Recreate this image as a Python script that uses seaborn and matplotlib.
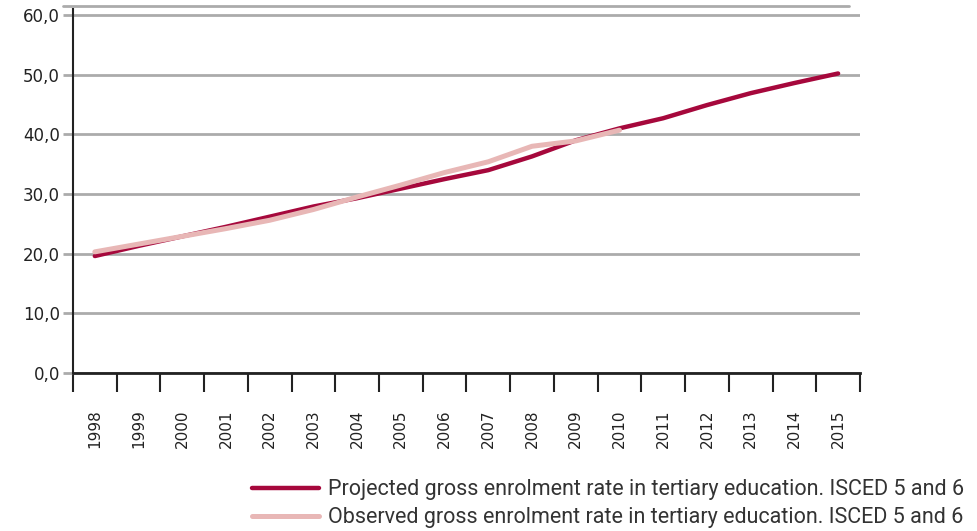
import matplotlib
matplotlib.use("Agg")
import matplotlib.pyplot as plt
import seaborn as sns
import pandas as pd
from matplotlib.ticker import FixedLocator, FuncFormatter

years = [str(y) for y in range(1998, 2016)]
projected = [19.6, 21.3, 22.9, 24.5, 26.2, 27.9, 29.3, 30.9, 32.5, 34.0,
             36.3, 39.0, 41.0, 42.7, 44.9, 46.9, 48.6, 50.2]
observed_years = [str(y) for y in range(1998, 2011)]
observed = [20.3, 21.6, 22.9, 24.2, 25.6, 27.4, 29.5, 31.5, 33.6, 35.4,
            38.0, 38.9, 40.7]
yticks = [0, 10, 20, 30, 40, 50, 60]
label_proj = "Projected gross enrolment rate in tertiary education. ISCED 5 and 6"
label_obs = "Observed gross enrolment rate in tertiary education. ISCED 5 and 6"

sns.set_theme(style="white")
plt.rcParams['font.family'] = ['DejaVu Sans']

df_p = pd.DataFrame({"year": years, "value": projected})
df_o = pd.DataFrame({"year": observed_years, "value": observed})
df_p["x"] = range(len(df_p))
df_o["x"] = range(len(df_o))

fig = plt.figure(figsize=(9.78, 5.31), dpi=100)
ax = fig.add_axes([0.0746, 0.2976, 0.8047, 0.6848])

sns.lineplot(data=df_p, x="x", y="value", ax=ax, color="#A6083C", linewidth=3.2,
             label=label_proj, zorder=3)
sns.lineplot(data=df_o, x="x", y="value", ax=ax, color="#E8B7B6", linewidth=3.6,
             label=label_obs, zorder=4)

ax.set_xlim(-0.5, len(years) - 0.5)
ax.set_ylim(0, 60.95)
ax.set_xlabel("")
ax.set_ylabel("")

ax.yaxis.set_major_locator(FixedLocator(yticks))
ax.yaxis.set_major_formatter(FuncFormatter(lambda v, p: f"{v:.1f}".replace(".", ",")))
ax.grid(axis="y", color="#ABABAB", linewidth=2.0)
ax.grid(axis="x", visible=False)
ax.tick_params(axis="y", length=7.5, width=2.0, color="#ABABAB", pad=2,
               labelsize=12, labelcolor="#222222", left=True)

ax.set_xticks(range(len(years)))
ax.set_xticklabels(years, rotation=90, fontsize=11, color="#222222", va="bottom")
ax.set_xticks([i - 0.5 for i in range(len(years) + 1)], minor=True)
ax.tick_params(axis="x", which="major", length=0, pad=54)
ax.tick_params(axis="x", which="minor", length=14, width=1.5, color="#222222", bottom=True)

for s in ["top", "right"]:
    ax.spines[s].set_visible(False)
ax.spines["left"].set_color("#222222")
ax.spines["left"].set_linewidth(1.5)
ax.spines["bottom"].set_color("#222222")
ax.spines["bottom"].set_linewidth(2.0)

ax.axhline(61.5, xmin=-0.013, xmax=0.986, color="#ABABAB", linewidth=2.0, clip_on=False)

ax.get_legend().remove()
handles, labels = ax.get_legend_handles_labels()
fig.legend(handles, labels, loc="lower right", bbox_to_anchor=(1.006, -0.031),
           frameon=False, prop={"family": "Roboto", "size": 15.5},
           handlelength=3.1, handletextpad=0.45, labelspacing=0.32,
           labelcolor="#333333")

fig.savefig("out.png", dpi=100)
